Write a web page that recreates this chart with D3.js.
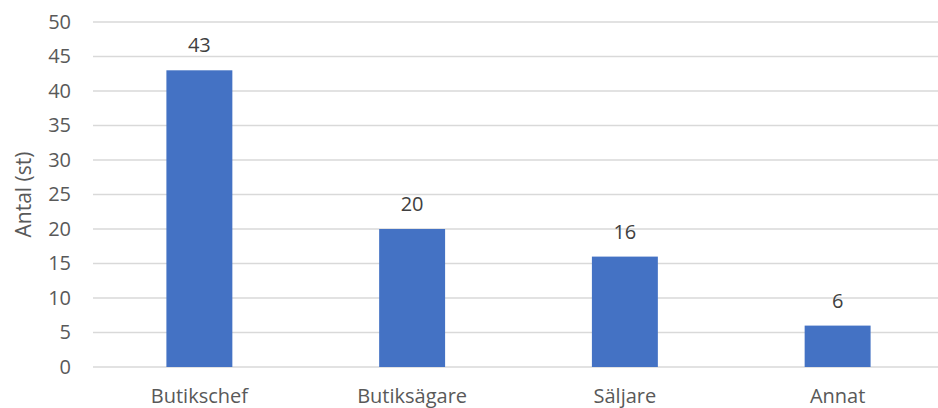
<!DOCTYPE html>
<html>
<head>
<meta charset="utf-8">
<script src="https://cdn.jsdelivr.net/npm/d3@7"></script>
<style>
  body { margin: 0; background: #fff; }
  svg text { font-family: "Open Sans", sans-serif; }
</style>
</head>
<body>
<div id="chart"></div>
<script>
const categories = ['Butikschef', 'Butiksägare', 'Säljare', 'Annat'];
const values = [43, 20, 16, 6];
const yTicks = [0, 5, 10, 15, 20, 25, 30, 35, 40, 45, 50];
const yTitle = 'Antal (st)';

const W = 938, H = 408;
const margin = { top: 22, right: -6, bottom: 41, left: 93 };
const width = W - margin.left - margin.right;
const height = H - margin.top - margin.bottom;

const svg = d3.select('#chart').append('svg')
    .attr('width', W)
    .attr('height', H);

const g = svg.append('g')
    .attr('transform', `translate(${margin.left},${margin.top})`);

const x = d3.scaleBand()
    .domain(categories)
    .range([0, width])
    .paddingInner(0.69)
    .paddingOuter(0.345);

const y = d3.scaleLinear().domain([0, 50]).range([height, 0]);

// gridlines
g.selectAll('.grid')
    .data(yTicks)
    .join('line')
    .attr('class', 'grid')
    .attr('x1', 0)
    .attr('x2', W - margin.left)
    .attr('y1', d => y(d))
    .attr('y2', d => y(d))
    .attr('stroke', '#d9d9d9')
    .attr('stroke-width', 1.3);

// y axis labels
const yAxis = g.append('g')
    .call(d3.axisLeft(y).tickValues(yTicks).tickSize(0).tickPadding(22));
yAxis.select('.domain').remove();
yAxis.selectAll('text')
    .style('font-size', '20px')
    .attr('fill', '#595959');

// x axis labels
const xAxis = g.append('g')
    .attr('transform', `translate(0,${height})`)
    .call(d3.axisBottom(x).tickSize(0).tickPadding(22));
xAxis.select('.domain').remove();
xAxis.selectAll('text')
    .style('font-size', '20px')
    .attr('fill', '#595959');

// bars
g.selectAll('.bar')
    .data(values)
    .join('rect')
    .attr('class', 'bar')
    .attr('x', (d, i) => x(categories[i]))
    .attr('y', d => y(d))
    .attr('width', x.bandwidth())
    .attr('height', d => height - y(d))
    .attr('fill', '#4472c4');

// value labels
g.selectAll('.val')
    .data(values)
    .join('text')
    .attr('class', 'val')
    .attr('x', (d, i) => x(categories[i]) + x.bandwidth() / 2)
    .attr('y', d => y(d) - 18)
    .attr('text-anchor', 'middle')
    .attr('fill', '#404040')
    .style('font-size', '20px')
    .text(d => d);

// y title
svg.append('text')
    .attr('transform', `translate(31,${margin.top + height / 2}) rotate(-90)`)
    .attr('text-anchor', 'middle')
    .attr('fill', '#595959')
    .style('font-size', '21px')
    .text(yTitle);
</script>
</body>
</html>
